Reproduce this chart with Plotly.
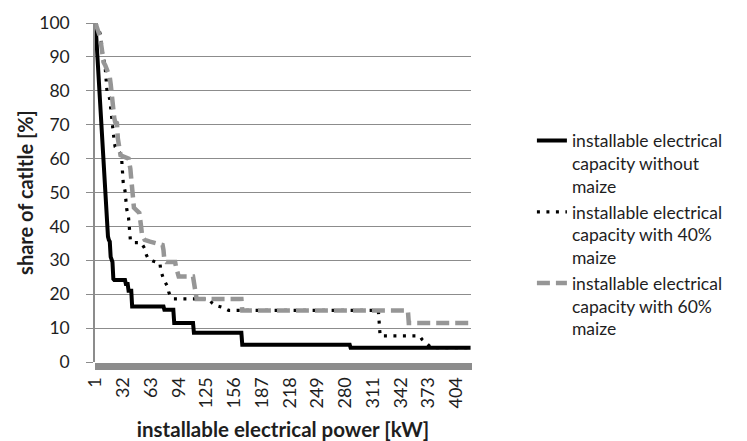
import plotly.graph_objects as go

# ---- data ----
categories_max = 420
tick_labels = [1, 32, 63, 94, 125, 156, 187, 218, 249, 280, 311, 342, 373, 404]

name_without = "installable electrical<br>capacity without<br>maize"
name_40 = "installable electrical<br>capacity with 40%<br>maize"
name_60 = "installable electrical<br>capacity with 60%<br>maize"

kw_without = [1, 2, 3, 4, 5, 6, 7, 8, 9, 10, 11, 12, 13, 14, 15, 16, 17, 18, 19, 20, 21, 22,
              34, 35, 37, 38, 41, 42, 77, 78, 88, 89, 110, 111, 164, 165, 285, 286, 420]
share_without = [100, 95.5, 91, 86.5, 82, 77.5, 72.5, 68, 63.5, 58.5, 53, 47.5, 42.5, 42, 37, 36,
                 35.5, 31, 30, 29.5, 24.5, 24.2,
                 24.2, 23, 23, 21, 21, 16.4, 16.4, 15.4, 15.4, 11.5, 11.5, 8.6, 8.6, 5.1, 5.1, 4.2, 4.2]

kw_40 = [1, 3, 5, 7, 8, 9, 10, 11, 12, 13, 14, 16, 17, 18, 19, 20, 21, 22, 23, 30, 31, 32, 34,
         35, 36, 38, 39, 40, 42, 52, 56, 58, 60, 65, 73, 74, 77, 80, 82, 83, 85, 88, 128, 131,
         135, 143, 150, 317, 318, 319, 363, 366, 371, 376, 420]
share_40 = [100, 99, 98, 96, 93, 91, 90, 88.5, 86.5, 83, 79.5, 78.5, 77.5, 75, 72, 69.5, 67, 65,
            63.5, 61, 57, 53, 50.5, 46, 45, 42.5, 37.5, 36, 35.2, 35.2, 33.5, 31.5, 30.5, 29.8,
            29.2, 27, 24.5, 23, 22, 20.5, 19.5, 18.6, 18.6, 17.5, 16.7, 16.1, 15.2, 15.2, 11,
            7.7, 7.7, 6.6, 5.5, 4.2, 4.2]

kw_60 = [1, 2, 4, 6, 8, 9, 10, 12, 14, 16, 17, 18, 19, 20, 21, 22, 23, 25, 26, 27, 28, 29, 38,
         39, 40, 41, 42, 43, 44, 50, 51, 52, 53, 56, 62, 76, 77, 78, 80, 90, 91, 92, 94, 110,
         111, 113, 114, 164, 165, 350, 351, 420]
share_60 = [100, 99, 97.5, 96, 92.5, 90.5, 88.5, 87.5, 86, 85, 84, 82, 79, 76.5, 74.5, 72, 70.8,
            70.5, 66, 64, 62, 61, 60, 59, 57, 54, 50, 46.5, 45.5, 44, 42.5, 40, 37.5, 36, 35.5,
            34.5, 33, 30, 29.5, 29.5, 28, 26.5, 25.2, 25.2, 23.5, 20, 18.6, 18.6, 15.2, 15.2,
            11.5, 11.5]

FONT = "Lato"
GRAY = "#8c8c8c"
TXT = "#1e1e1e"

fig = go.Figure()
fig.add_trace(go.Scatter(x=kw_without, y=share_without, mode="lines", name=name_without,
                         line=dict(color="black", width=4)))
fig.add_trace(go.Scatter(x=kw_40, y=share_40, mode="lines", name=name_40,
                         line=dict(color="black", width=3.2, dash="3px,6.5px")))
# the third series sits on the overlay x axis (same range) so that axis gets drawn
fig.add_trace(go.Scatter(x=kw_60, y=share_60, mode="lines", name=name_60, xaxis="x2",
                         line=dict(color="#969696", width=4.5, dash="13px,6px")))

fig.update_layout(
    width=747, height=441,
    paper_bgcolor="white", plot_bgcolor="white",
    margin=dict(l=95, r=276, t=23, b=79, autoexpand=False),
    font=dict(family=FONT, size=18, color=TXT),
    showlegend=True,
    legend=dict(x=1.162, y=0.706, xanchor="left", yanchor="top", valign="top",
                font=dict(family=FONT, size=17.5, color=TXT), bgcolor="rgba(0,0,0,0)",
                tracegroupgap=0),
    xaxis=dict(
        range=[0.5, categories_max + 0.5], tickmode="array", tickvals=tick_labels,
        ticktext=[str(t) for t in tick_labels], tickangle=-90,
        ticks="outside", ticklen=7, tickcolor=GRAY, tickwidth=1,
        showgrid=False, zeroline=False, showline=False,
        tickfont=dict(family=FONT, size=18, color=TXT),
        title=dict(text="<b>installable electrical power [kW]</b>", standoff=15,
                   font=dict(family=FONT, size=20.5, color=TXT)),
        automargin=False,
    ),
    # overlay axis: one tick mark per category (the grey band under the plot)
    xaxis2=dict(
        overlaying="x", matches="x", anchor="y", side="bottom",
        tickmode="linear", tick0=0.5, dtick=1,
        ticks="outside", ticklen=7, tickcolor=GRAY, tickwidth=1,
        showticklabels=False, showgrid=False, zeroline=False, showline=False,
        automargin=False,
    ),
    yaxis=dict(
        range=[0, 100], tickmode="linear", tick0=0, dtick=10,
        showgrid=True, gridcolor=GRAY, gridwidth=1,
        showline=True, linecolor=GRAY, linewidth=1.5,
        ticks="outside", ticklen=7, tickcolor=GRAY, tickwidth=1,
        ticklabelstandoff=13, zeroline=False,
        tickfont=dict(family=FONT, size=17.5, color=TXT),
        title=dict(text="<b>share of catltle [%]</b>", standoff=0,
                   font=dict(family=FONT, size=20, color=TXT)),
        automargin=False,
    ),
)

fig.write_html("out.html", config={"displayModeBar": False},
               post_script="document.body.style.margin='0';")
